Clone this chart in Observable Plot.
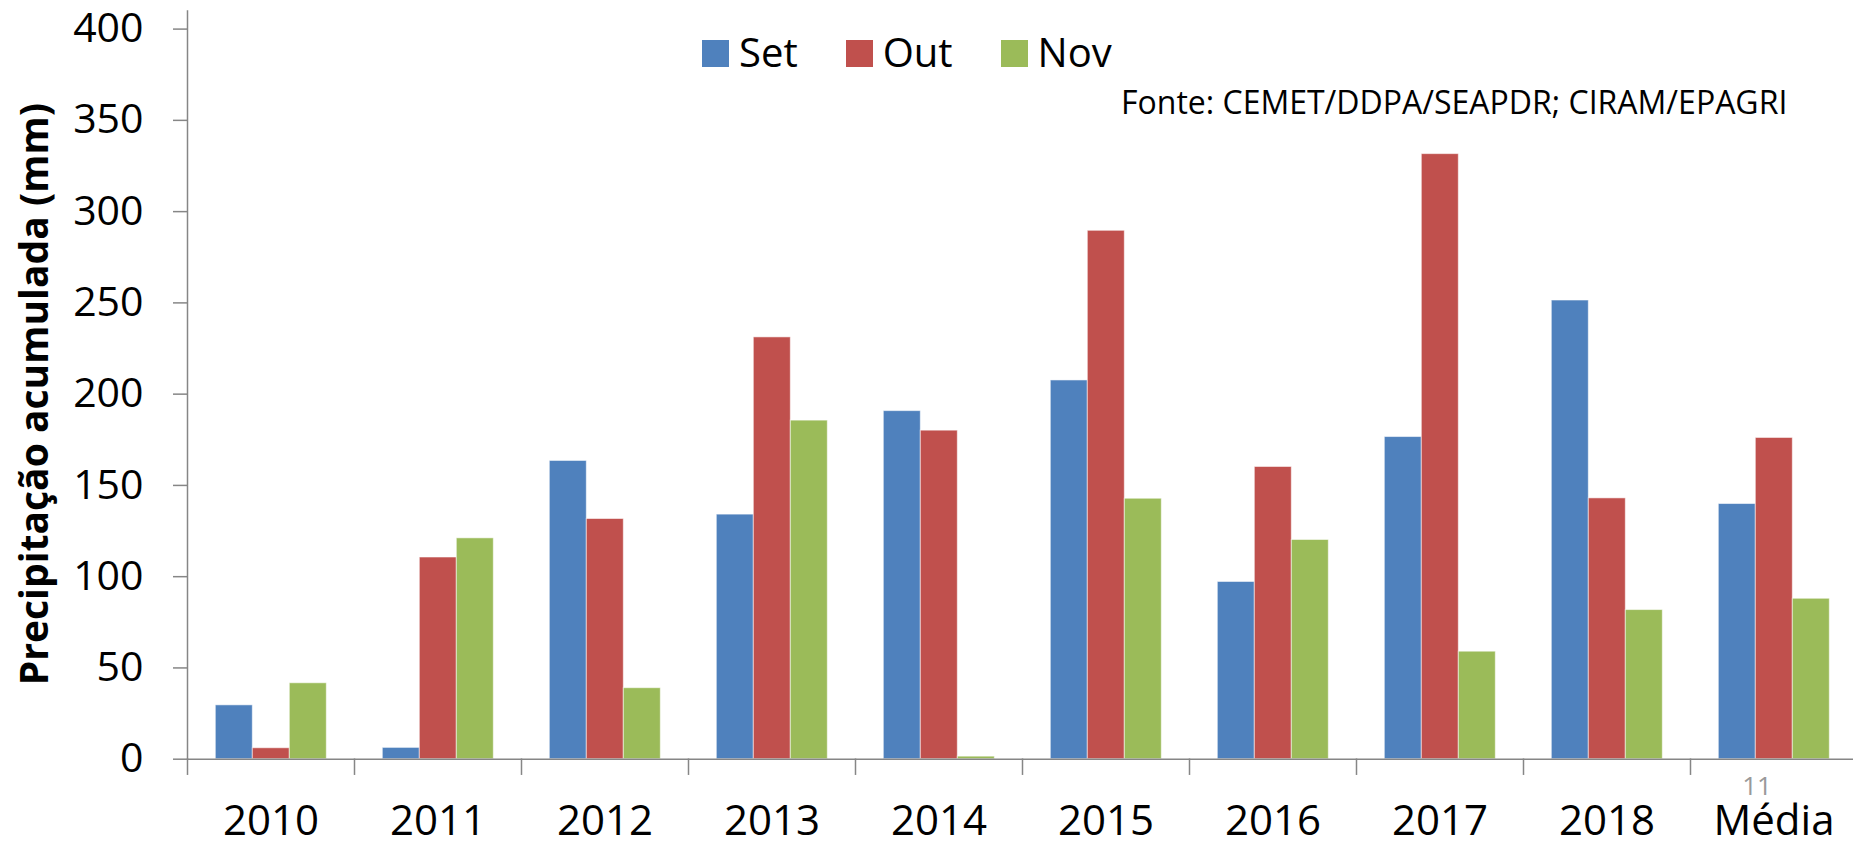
<!DOCTYPE html>
<html>
<head>
<meta charset="utf-8">
<script src="https://cdn.jsdelivr.net/npm/d3@7"></script>
<script src="https://cdn.jsdelivr.net/npm/@observablehq/plot@0.6"></script>
<style>
  html, body { margin: 0; padding: 0; background: #fff; }
  #wrap { position: relative; width: 1853px; height: 842px; overflow: hidden; font-family: "Open Sans", sans-serif; color: #000; }
  #wrap svg { position: absolute; left: 0; top: 0; }
  .legend { position: absolute; left: 702px; top: 40px; height: 27px; display: flex; align-items: center; }
  .legend .sw { display: inline-block; width: 27px; height: 27px; }
  .legend .lb { font-size: 40px; line-height: 27px; margin-left: 10px; margin-right: 48px; position: relative; top: -2px; white-space: nowrap; }
  .source { position: absolute; left: 1121px; top: 86px; font-size: 32px; line-height: 32px; white-space: nowrap; }
  .pagenum { position: absolute; left: 1727px; width: 60px; text-align: center; top: 772px; font-size: 26px; line-height: 26px; color: #999; }
</style>
</head>
<body>
<div id="wrap"></div>
<script>
// ---- data ----
const categories = ["2010", "2011", "2012", "2013", "2014", "2015", "2016", "2017", "2018", "Média"];
const series = ["Set", "Out", "Nov"];
const setValues = [29.5, 6.2, 163.4, 134, 190.7, 207.5, 97.1, 176.5, 251.3, 139.8];
const outValues = [6, 110.5, 131.6, 231.1, 180, 289.5, 160.1, 331.5, 142.9, 176];
const novValues = [41.6, 121, 38.9, 185.5, 1.4, 142.7, 120.1, 58.9, 81.7, 87.9];
const yTicks = [0, 50, 100, 150, 200, 250, 300, 350, 400];
const colors = ["#4F81BD", "#C0504D", "#9BBB59"];
const yLabel = "Precipitação acumulada (mm)";
const sourceText = "Fonte: CEMET/DDPA/SEAPDR; CIRAM/EPAGRI";
const pageNumber = "11";

const valuesBySeries = [setValues, outValues, novValues];
const data = categories.flatMap((c, i) =>
  series.map((s, j) => ({cat: c, series: s, value: valuesBySeries[j][i]}))
);

// ---- layout ----
const W = 1853, H = 842;
const mL = 185.7, mT = 28.6, mB = 83.3, mR = -4.5;
const innerH = H - mT - mB;
const axisColor = "#868686";

const chart = Plot.plot({
  width: W,
  height: H,
  marginLeft: mL,
  marginRight: mR,
  marginTop: mT,
  marginBottom: mB,
  style: {fontFamily: "'Open Sans', sans-serif", background: "white", color: "black"},
  fx: {domain: categories, paddingInner: 0, paddingOuter: 0, label: null},
  x: {domain: series, paddingInner: 0, paddingOuter: 0.75, axis: null},
  y: {domain: [0, 400], label: null},
  color: {domain: series, range: colors},
  marks: [
    Plot.barY(data, {fx: "cat", x: "series", y: "value", fill: "series", stroke: "white", strokeOpacity: 0.55, strokeWidth: 1}),
    Plot.ruleY([0], {stroke: axisColor, strokeWidth: 1.5}),
    Plot.frame({anchor: "left", insetTop: innerH, insetBottom: -15, stroke: axisColor, strokeWidth: 1.5}),
    Plot.frame({anchor: "left", facetAnchor: "left", insetTop: -18, insetBottom: 0, stroke: axisColor, strokeWidth: 1.5}),
    Plot.axisY({ticks: yTicks, tickSize: 14, tickPadding: 30, fontSize: 41, stroke: axisColor, strokeWidth: 1.5, label: null, tickFormat: d => String(d)}),
    Plot.axisY({ticks: [], tickSize: 0, label: yLabel, labelAnchor: "center", labelOffset: 167.4, labelArrow: false, fontSize: 39, fontWeight: "bold"}),
    Plot.axisFx({anchor: "bottom", tickSize: 0, tickPadding: 46, fontSize: 42, label: null})
  ]
});

const wrap = document.getElementById("wrap");
wrap.appendChild(chart);

// legend
const legend = document.createElement("div");
legend.className = "legend";
series.forEach((s, i) => {
  const sw = document.createElement("span");
  sw.className = "sw";
  sw.style.background = colors[i];
  const lb = document.createElement("span");
  lb.className = "lb";
  lb.textContent = s;
  legend.appendChild(sw);
  legend.appendChild(lb);
});
wrap.appendChild(legend);

const src = document.createElement("div");
src.className = "source";
src.textContent = sourceText;
wrap.appendChild(src);

const pn = document.createElement("div");
pn.className = "pagenum";
pn.textContent = pageNumber;
wrap.appendChild(pn);
</script>
</body>
</html>
